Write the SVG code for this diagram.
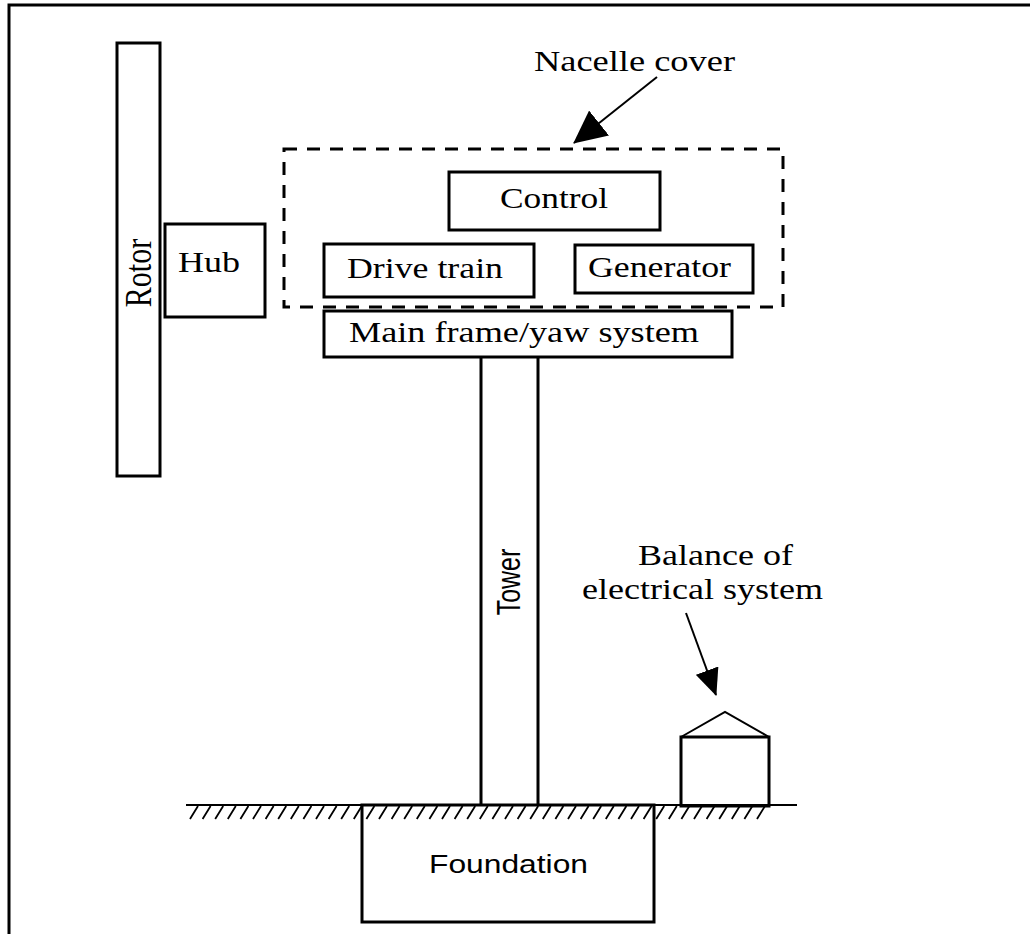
<svg xmlns="http://www.w3.org/2000/svg" width="1030" height="934" viewBox="0 0 1030 934">
<defs>
<style>
.box{fill:none;stroke:#000;stroke-width:3}
.thin{fill:none;stroke:#000;stroke-width:2}
.dash{fill:none;stroke:#000;stroke-width:3;stroke-dasharray:13 10}
.serif{font-family:"Liberation Serif","Times New Roman",serif;font-size:30px;fill:#000}
.sans{font-family:"Liberation Sans",Arial,sans-serif;font-size:25px;fill:#000}
.conn{fill:none;stroke:#000;stroke-width:2}
</style>
<marker id="ah" viewBox="0 0 33 32" refX="32" refY="16" markerWidth="33" markerHeight="32" markerUnits="userSpaceOnUse" orient="auto">
<path d="M0,0 L33,16 L0,32 z" fill="#000"/>
</marker>
<marker id="ahs" viewBox="0 0 27 24" refX="26" refY="12" markerWidth="27" markerHeight="24" markerUnits="userSpaceOnUse" orient="auto">
<path d="M0,0 L27,12 L0,24 z" fill="#000"/>
</marker>
</defs>
<rect width="1030" height="934" fill="#fff"/>
<path d="M9,934 V5 H1030" fill="none" stroke="#000" stroke-width="3"/>

<g id="rotor">
<rect class="box" x="117" y="43" width="43" height="433"/>
<text class="serif" text-anchor="middle" transform="translate(151,273) scale(1.25,1) rotate(-90)">Rotor</text>
</g>
<g id="hub">
<rect class="box" x="165" y="224" width="100" height="93"/>
<text class="serif" x="178" y="272" textLength="62" lengthAdjust="spacingAndGlyphs">Hub</text>
</g>
<g id="nacelle">
<rect class="dash" x="284" y="149" width="499" height="158"/>
<text class="serif" x="534" y="71" textLength="201" lengthAdjust="spacingAndGlyphs">Nacelle cover</text>
</g>
<g id="control">
<rect class="box" x="449" y="172" width="211" height="58"/>
<text class="serif" x="500" y="208" textLength="108" lengthAdjust="spacingAndGlyphs">Control</text>
</g>
<g id="drivetrain">
<rect class="box" x="324" y="244" width="210" height="53"/>
<text class="serif" x="347" y="278" textLength="156" lengthAdjust="spacingAndGlyphs">Drive train</text>
</g>
<g id="generator">
<rect class="box" x="575" y="245" width="178" height="48"/>
<text class="serif" x="588" y="277" textLength="143" lengthAdjust="spacingAndGlyphs">Generator</text>
</g>
<g id="mainframe">
<rect class="box" x="324" y="311" width="408" height="46"/>
<text class="serif" x="349" y="342" textLength="350" lengthAdjust="spacingAndGlyphs">Main frame/yaw system</text>
</g>
<g id="tower">
<path class="box" d="M481,357 V805 M538,357 V805"/>
<text class="sans" text-anchor="middle" transform="translate(520,582) scale(1.3,1) rotate(-90)">Tower</text>
</g>
<g id="ground">
<path class="thin" d="M186,805 H797"/>
<path fill="none" stroke="#000" stroke-width="1.8" d="M198,806 l-8,13 m20.6,-13 l-8,13 m20.6,-13 l-8,13 m20.6,-13 l-8,13 m20.6,-13 l-8,13 m20.6,-13 l-8,13 m20.6,-13 l-8,13 m20.6,-13 l-8,13 m20.6,-13 l-8,13 m20.6,-13 l-8,13 m20.6,-13 l-8,13 m20.6,-13 l-8,13 m20.6,-13 l-8,13 m20.6,-13 l-8,13 m20.6,-13 l-8,13 m20.6,-13 l-8,13 m20.6,-13 l-8,13 m20.6,-13 l-8,13 m20.6,-13 l-8,13 m20.6,-13 l-8,13 m20.6,-13 l-8,13 m20.6,-13 l-8,13 m20.6,-13 l-8,13 m20.6,-13 l-8,13 m20.6,-13 l-8,13 m20.6,-13 l-8,13 m20.6,-13 l-8,13 m20.6,-13 l-8,13 m20.6,-13 l-8,13 m20.6,-13 l-8,13 m20.6,-13 l-8,13 m20.6,-13 l-8,13 m20.6,-13 l-8,13 m20.6,-13 l-8,13 m20.6,-13 l-8,13 m20.6,-13 l-8,13 m20.6,-13 l-8,13 m20.6,-13 l-8,13 m20.6,-13 l-8,13 m20.6,-13 l-8,13 m20.6,-13 l-8,13 m20.6,-13 l-8,13 m20.6,-13 l-8,13 m20.6,-13 l-8,13 m20.6,-13 l-8,13 m20.6,-13 l-8,13"/>
</g>
<g id="foundation">
<rect class="box" x="362" y="805" width="292" height="117"/>
<text class="sans" x="429" y="873" textLength="159" lengthAdjust="spacingAndGlyphs">Foundation</text>
</g>
<g id="balance">
<rect class="box" x="681" y="737" width="88" height="69"/>
<path class="thin" d="M681,737 L725,712 L769,737"/>
<text class="serif" x="638" y="565" textLength="155" lengthAdjust="spacingAndGlyphs">Balance of</text>
<text class="serif" x="582" y="599" textLength="241" lengthAdjust="spacingAndGlyphs">electrical system</text>
</g>
<g id="connectors">
<path class="conn" d="M657,77 L574,143" marker-end="url(#ah)"/>
<path class="conn" d="M686,613 L716,695" marker-end="url(#ahs)"/>
</g>
</svg>
